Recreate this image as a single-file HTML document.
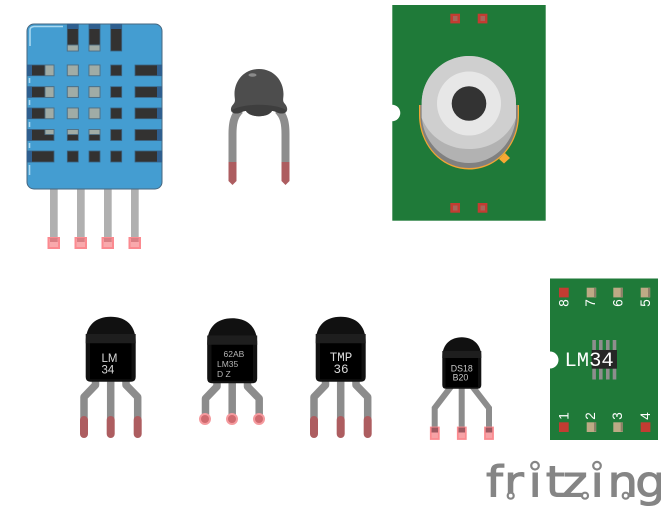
<!DOCTYPE html>
<html>
<head>
<meta charset="utf-8">
<style>
html,body{margin:0;padding:0;background:#fff;width:661px;height:510px;overflow:hidden}
svg{display:block}
text{font-family:"Liberation Sans",sans-serif}
</style>
</head>
<body>
<svg width="661" height="510" viewBox="0 0 661 510" xmlns="http://www.w3.org/2000/svg">
<defs>
<g id="to92legs" fill="none" stroke="#8c8c8c" stroke-width="7.500" stroke-linejoin="round">
<path d="M95.500 380V385L84 397V434"/>
<path d="M110.700 380V434"/>
<path d="M126 380V385L137.700 397V434"/>
</g>
<g id="tips" fill="none" stroke="#ad5d60" stroke-width="8" stroke-linecap="round">
<path d="M84 420V434"/><path d="M110.700 420V434"/><path d="M137.700 420V434"/>
</g>
<path id="body" d="M85.700 342C85.700 325 96 316.700 110.700 316.700C125.500 316.700 135.700 325 135.700 342V377Q135.700 381.700 131 381.700H90.500Q85.700 381.700 85.700 377Z"/>
</defs>

<!-- DHT sensor -->
<g fill="#b0b0b0">
<rect x="50" y="188" width="7.700" height="50"/><rect x="77" y="188" width="7.700" height="50"/>
<rect x="104" y="188" width="7.700" height="50"/><rect x="131" y="188" width="7.700" height="50"/>
</g>
<g fill="#f9a9ac" stroke="#fb8a90" stroke-width="2">
<rect x="48.500" y="238" width="10.500" height="10"/><rect x="75.500" y="238" width="10.500" height="10"/>
<rect x="102.500" y="238" width="10.500" height="10"/><rect x="129.500" y="238" width="10.500" height="10"/>
</g>
<g fill="#d97f84"><rect x="50" y="238" width="7.700" height="4"/><rect x="77" y="238" width="7.700" height="4"/><rect x="104" y="238" width="7.700" height="4"/><rect x="131" y="238" width="7.700" height="4"/></g>
<rect x="27" y="24" width="135" height="165" rx="7" fill="#449dd1" stroke="#46667f" stroke-width="1"/>
<path d="M30 46V30Q30 27 34 26.500H63" fill="none" stroke="#a9d8f0" stroke-width="1.600"/>
<path d="M29.500 165V175M29.500 78V83M29.500 100V105M29.500 122V127M29.500 143V148" stroke="#a9d8f0" stroke-width="1.600"/>
<g fill="#333231" stroke="#3c627f" stroke-width=".8">
<rect x="67.300" y="24" width="11" height="27"/><rect x="89" y="24" width="11" height="27"/><rect x="110.700" y="24" width="11" height="27"/>
<rect x="27" y="65" width="27" height="10.700"/><rect x="67.300" y="65" width="11" height="10.700"/><rect x="89" y="65" width="11" height="10.700"/><rect x="110.700" y="65" width="11" height="10.700"/><rect x="135" y="65" width="27" height="10.700"/>
<rect x="27" y="86.700" width="27" height="10.700"/><rect x="67.300" y="86.700" width="11" height="10.700"/><rect x="89" y="86.700" width="11" height="10.700"/><rect x="110.700" y="86.700" width="11" height="10.700"/><rect x="135" y="86.700" width="27" height="10.700"/>
<rect x="27" y="108" width="27" height="10.700"/><rect x="67.300" y="108" width="11" height="10.700"/><rect x="89" y="108" width="11" height="10.700"/><rect x="110.700" y="108" width="11" height="10.700"/><rect x="135" y="108" width="27" height="10.700"/>
<rect x="27" y="129.500" width="27" height="11"/><rect x="67.300" y="129.500" width="11" height="11"/><rect x="89" y="129.500" width="11" height="11"/><rect x="110.700" y="129.500" width="11" height="11"/><rect x="135" y="129.500" width="27" height="11"/>
<rect x="27" y="151" width="27" height="11"/><rect x="67.300" y="151" width="11" height="11"/><rect x="89" y="151" width="11" height="11"/><rect x="110.700" y="151" width="11" height="11"/><rect x="135" y="151" width="27" height="11"/>
</g>
<g fill="#2f5f8f">
<rect x="67.300" y="24" width="11" height="5"/><rect x="89" y="24" width="11" height="5"/><rect x="110.700" y="24" width="11" height="5"/>
<rect x="27" y="65" width="5" height="10.700"/><rect x="27" y="86.700" width="5" height="10.700"/><rect x="27" y="108" width="5" height="10.700"/><rect x="27" y="129.500" width="5" height="11"/><rect x="27" y="151" width="5" height="11"/>
<rect x="157" y="65" width="5" height="10.700"/><rect x="157" y="86.700" width="5" height="10.700"/><rect x="157" y="108" width="5" height="10.700"/><rect x="157" y="129.500" width="5" height="11"/><rect x="157" y="151" width="5" height="11"/>
</g>
<g fill="#a0aca6" stroke="#4f7085" stroke-width=".9">
<rect x="67.300" y="45" width="11" height="6"/><rect x="89" y="45" width="11" height="6"/>
<rect x="45" y="65" width="9" height="10.700"/><rect x="67.300" y="65" width="11" height="10.700"/><rect x="89" y="65" width="11" height="10.700"/>
<rect x="45" y="86.700" width="9" height="10.700"/><rect x="67.300" y="86.700" width="11" height="10.700"/><rect x="89" y="86.700" width="11" height="10.700"/>
<rect x="45" y="108" width="9" height="10.700"/><rect x="67.300" y="108" width="11" height="10.700"/><rect x="89" y="108" width="11" height="10.700"/>
<rect x="45" y="129.500" width="9" height="5"/><rect x="67.300" y="129.500" width="11" height="5"/><rect x="89" y="129.500" width="11" height="5"/>
</g>

<!-- Thermistor -->
<g fill="none" stroke-width="8">
<path d="M240 110C234 116 232.500 123 232.500 134V168" stroke="#8d8d8d"/>
<path d="M278 110C284 116 285.500 123 285.500 134V168" stroke="#8d8d8d"/>
</g>
<path d="M228.500 162H236.500V181L232.500 185L228.500 181Z" fill="#ad5d60"/>
<path d="M281.500 162H289.500V181L285.500 185L281.500 181Z" fill="#ad5d60"/>
<path d="M259 69C244 69 234.500 81 234.500 94C234.500 99 236 101 233.500 104C229.500 108 230 113.500 236 113.500C241 113.500 243 110.500 246 111C250 118 268 118 272 111C275 110.500 277 113.500 282 113.500C288 113.500 288.500 108 285 104C282 101 283.500 99 283.500 94C283.500 81 274 69 259 69Z" fill="#4d4d4d"/>
<path d="M232 110C233 113 234 113.500 236 113.500C241 113.500 243 110.500 246 111C250 118 268 118 272 111C275 110.500 277 113.500 282 113.500C284 113.500 286 112 286 110C275 103 243 103 232 110Z" fill="#3e3e3e"/>
<ellipse cx="252.500" cy="75" rx="4" ry="1.800" fill="#8a8a8a"/>

<!-- Sensor board -->
<rect x="392.300" y="5" width="153.400" height="215.700" fill="#1f7a39"/>
<circle cx="392" cy="113" r="8.300" fill="#fff"/>
<g fill="#c33c32"><rect x="450.300" y="13.700" width="9.700" height="9.700"/><rect x="477.700" y="13.700" width="9.700" height="9.700"/><rect x="450.300" y="203" width="9.700" height="9.700"/><rect x="477.700" y="203" width="9.700" height="9.700"/></g>
<g fill="#a7655a"><rect x="453" y="16" width="4.500" height="5"/><rect x="480.500" y="16" width="4.500" height="5"/><rect x="453" y="205.500" width="4.500" height="5"/><rect x="480.500" y="205.500" width="4.500" height="5"/></g>
<path d="M499 159L505 153L510 158L504 163.500Z" fill="#f7a833"/>
<path d="M419 105V115C419 145 441 169.500 469 169.500C497 169.500 519 145 519 115V105Z" fill="#f2a535"/>
<path d="M420.300 105V115C420.300 144 441 168 469 168C497 168 517.700 144 517.700 115V105Z" fill="#808080"/>
<path d="M421.700 103C421.700 77 443 56 469 56C495 56 516 77 516 103V114C516 141 495 163 469 163C443 163 421.700 141 421.700 114Z" fill="#b2b2b2"/>
<path d="M421.700 103C421.700 77 443 56 469 56C495 56 516 77 516 103V118C508 138 490 149 469 149C448 149 430 138 421.700 118Z" fill="#cfcfcf"/>
<circle cx="469" cy="103.500" r="32" fill="#e7e7e7"/>
<circle cx="469" cy="103.500" r="17.300" fill="#333"/>

<!-- LM34 -->
<use href="#to92legs"/><use href="#tips"/>
<use href="#body" fill="#111"/>
<rect x="85.700" y="334" width="50" height="9.300" fill="#1e1e1e"/>
<rect x="90" y="343.300" width="41.500" height="36" fill="#000"/>
<text x="101.500" y="362" font-size="11.500" fill="#d8d8d8">LM</text>
<text x="101.500" y="373.500" font-size="11.500" fill="#d8d8d8">34</text>

<!-- LM35 -->
<g transform="translate(121.500,1.500)">
<g fill="none" stroke="#8c8c8c" stroke-width="7.500" stroke-linejoin="round"><path d="M95.500 380V385L84 397V416"/><path d="M110.700 380V416"/><path d="M126 380V385L137.700 397V416"/></g>
<use href="#body" fill="#111"/>
<rect x="85.700" y="334" width="50" height="9.300" fill="#1e1e1e"/>
<rect x="90" y="343.300" width="41.500" height="36" fill="#000"/>
</g>
<g fill="#f59a9e"><circle cx="205" cy="419" r="6"/><circle cx="232" cy="419" r="6"/><circle cx="259" cy="419" r="6"/></g>
<g fill="#cf6a6f"><circle cx="205" cy="419" r="4"/><circle cx="232" cy="419" r="4"/><circle cx="259" cy="419" r="4"/></g>
<g font-size="8.500" fill="#b5b5b5">
<text x="223.500" y="357">62AB</text><text x="217" y="366.800">LM35</text><text x="217" y="377">D Z</text>
</g>

<!-- TMP36 -->
<g transform="translate(230,0)">
<use href="#to92legs"/><use href="#tips"/>
<use href="#body" fill="#111"/>
<rect x="85.700" y="334" width="50" height="9.300" fill="#1e1e1e"/>
<rect x="90" y="343.300" width="41.500" height="36" fill="#000"/>
</g>
<text x="341" y="361" font-size="12.500" fill="#d8d8d8" text-anchor="middle" style="font-family:'Liberation Mono',monospace">TMP</text>
<text x="341" y="373" font-size="12.500" fill="#d8d8d8" text-anchor="middle" style="font-family:'Liberation Mono',monospace">36</text>

<!-- DS18B20 -->
<g fill="none" stroke="#8c8c8c" stroke-width="6">
<path d="M451.500 386L434.700 408V430"/><path d="M461.700 386V430"/><path d="M472 386L489 408V430"/>
</g>
<g fill="#f7a2a6" stroke="#fb8b90" stroke-width="1.800">
<rect x="430.800" y="427.500" width="8" height="11.500"/><rect x="457.800" y="427.500" width="8" height="11.500"/><rect x="485" y="427.500" width="8" height="11.500"/>
</g>
<g fill="#9c5860"><rect x="431.500" y="427.500" width="6.500" height="5"/><rect x="458.500" y="427.500" width="6.500" height="5"/><rect x="485.700" y="427.500" width="6.500" height="5"/></g>
<path d="M442.300 357C442.300 344 451 337.300 461.800 337.300C472.500 337.300 481.300 344 481.300 357V385Q481.300 388.700 477.500 388.700H446Q442.300 388.700 442.300 385Z" fill="#111"/>
<rect x="442.300" y="351" width="39" height="7" fill="#1e1e1e"/>
<rect x="445.500" y="358" width="32.500" height="29" fill="#000"/>
<text x="461.800" y="371.300" font-size="8.800" fill="#c8c8c8" text-anchor="middle">DS18</text>
<text x="460.500" y="380.300" font-size="8.800" fill="#c8c8c8" text-anchor="middle">B20</text>

<!-- LM34 board -->
<rect x="550" y="278.500" width="108" height="161.500" fill="#1f7a39"/>
<circle cx="550" cy="360" r="8.500" fill="#fff"/>
<g fill="#c33c32"><rect x="559" y="287.700" width="9.700" height="9.700"/><rect x="559" y="422.300" width="9.700" height="9.700"/><rect x="640.700" y="422.300" width="9.700" height="9.700"/></g>
<g fill="#bdaa85">
<rect x="586.700" y="287.700" width="9.500" height="9.700"/><rect x="613.300" y="287.700" width="9.500" height="9.700"/><rect x="640.700" y="287.700" width="9.500" height="9.700"/>
<rect x="586.700" y="422.300" width="9.500" height="9.700"/><rect x="613.300" y="422.300" width="9.500" height="9.700"/>
</g>
<g fill="#8d7f68"><rect x="594" y="288" width="2" height="9"/><rect x="620.700" y="288" width="2" height="9"/><rect x="648" y="288" width="2" height="9"/><rect x="594" y="422.500" width="2" height="9"/><rect x="620.700" y="422.500" width="2" height="9"/></g>
<g font-size="13.500" fill="#fff" style="font-family:'Liberation Mono',monospace" text-anchor="middle">
<text transform="translate(568.500,303) rotate(-90)">8</text>
<text transform="translate(595,303) rotate(-90)">7</text>
<text transform="translate(622.500,303) rotate(-90)">6</text>
<text transform="translate(650,303) rotate(-90)">5</text>
<text transform="translate(568.500,416) rotate(-90)">1</text>
<text transform="translate(595,416) rotate(-90)">2</text>
<text transform="translate(622,416) rotate(-90)">3</text>
<text transform="translate(650,416) rotate(-90)">4</text>
</g>
<g fill="#8e8e8e"><rect x="592.300" y="340" width="3.600" height="39.500"/><rect x="599" y="340" width="3.600" height="39.500"/><rect x="606" y="340" width="3.600" height="39.500"/><rect x="612.700" y="340" width="3.600" height="39.500"/></g>
<rect x="591.700" y="350" width="25.300" height="18.700" fill="#262626"/>
<text x="564.500" y="366" font-size="20.500" fill="#fff" style="font-family:'Liberation Mono',monospace">LM34</text>

<!-- fritzing logo -->
<text transform="scale(1.12,1)" x="433.900 450 471.900 487.300 502.100 527.200 542.400 567.200" y="496.500" font-size="43" fill="#858585" stroke="#858585" stroke-width="1" style="font-family:'DejaVu Sans',sans-serif">fritzing</text>
<g fill="#fff" stroke="#858585" stroke-width="2.200">
<circle cx="535" cy="465.700" r="3.800"/><circle cx="597" cy="465.700" r="3.800"/>
<circle cx="510.700" cy="495.700" r="3"/><circle cx="585" cy="495.700" r="3"/><circle cx="625.700" cy="495.700" r="3"/>
</g>
</svg>
</body>
</html>
